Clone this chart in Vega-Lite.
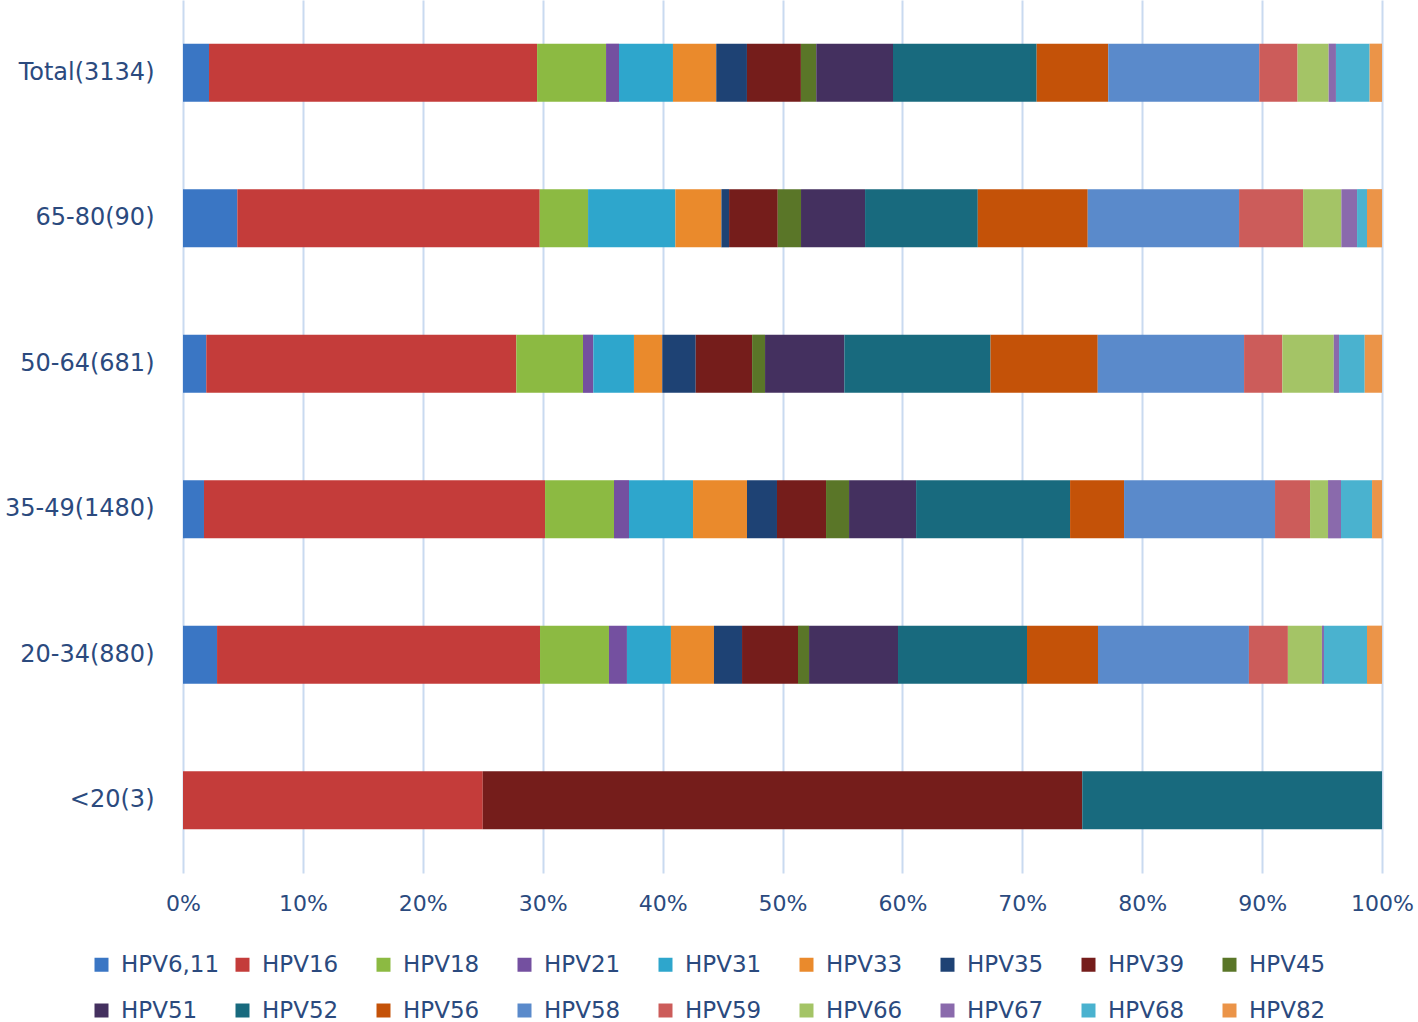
{
  "$schema": "https://vega.github.io/schema/vega-lite/v6.json",
  "width": 1199,
  "height": 873,
  "autosize": {"type": "none"},
  "padding": {"left": 183, "top": 0, "right": 36, "bottom": 149},
  "background": "white",
  "config": {"view": {"stroke": null}, "font": "DejaVu Sans"},
  "data": {"values": [
    {"g":"Total(3134)","t":"HPV6,11","v":2.17},{"g":"Total(3134)","t":"HPV16","v":27.36},{"g":"Total(3134)","t":"HPV18","v":5.75},{"g":"Total(3134)","t":"HPV21","v":1.08},{"g":"Total(3134)","t":"HPV31","v":4.50},{"g":"Total(3134)","t":"HPV33","v":3.61},{"g":"Total(3134)","t":"HPV35","v":2.56},{"g":"Total(3134)","t":"HPV39","v":4.50},{"g":"Total(3134)","t":"HPV45","v":1.28},{"g":"Total(3134)","t":"HPV51","v":6.40},{"g":"Total(3134)","t":"HPV52","v":11.98},{"g":"Total(3134)","t":"HPV56","v":5.97},{"g":"Total(3134)","t":"HPV58","v":12.59},{"g":"Total(3134)","t":"HPV59","v":3.20},{"g":"Total(3134)","t":"HPV66","v":2.59},{"g":"Total(3134)","t":"HPV67","v":0.61},{"g":"Total(3134)","t":"HPV68","v":2.81},{"g":"Total(3134)","t":"HPV82","v":1.03},
    {"g":"65-80(90)","t":"HPV6,11","v":4.53},{"g":"65-80(90)","t":"HPV16","v":25.22},{"g":"65-80(90)","t":"HPV18","v":4.03},{"g":"65-80(90)","t":"HPV31","v":7.28},{"g":"65-80(90)","t":"HPV33","v":3.84},{"g":"65-80(90)","t":"HPV35","v":0.64},{"g":"65-80(90)","t":"HPV39","v":4.06},{"g":"65-80(90)","t":"HPV45","v":1.94},{"g":"65-80(90)","t":"HPV51","v":5.34},{"g":"65-80(90)","t":"HPV52","v":9.40},{"g":"65-80(90)","t":"HPV56","v":9.17},{"g":"65-80(90)","t":"HPV58","v":12.62},{"g":"65-80(90)","t":"HPV59","v":5.34},{"g":"65-80(90)","t":"HPV66","v":3.19},{"g":"65-80(90)","t":"HPV67","v":1.31},{"g":"65-80(90)","t":"HPV68","v":0.83},{"g":"65-80(90)","t":"HPV82","v":1.25},
    {"g":"50-64(681)","t":"HPV6,11","v":1.94},{"g":"50-64(681)","t":"HPV16","v":25.85},{"g":"50-64(681)","t":"HPV18","v":5.56},{"g":"50-64(681)","t":"HPV21","v":0.86},{"g":"50-64(681)","t":"HPV31","v":3.39},{"g":"50-64(681)","t":"HPV33","v":2.36},{"g":"50-64(681)","t":"HPV35","v":2.79},{"g":"50-64(681)","t":"HPV39","v":4.70},{"g":"50-64(681)","t":"HPV45","v":1.08},{"g":"50-64(681)","t":"HPV51","v":6.61},{"g":"50-64(681)","t":"HPV52","v":12.19},{"g":"50-64(681)","t":"HPV56","v":8.94},{"g":"50-64(681)","t":"HPV58","v":12.20},{"g":"50-64(681)","t":"HPV59","v":3.19},{"g":"50-64(681)","t":"HPV66","v":4.29},{"g":"50-64(681)","t":"HPV67","v":0.44},{"g":"50-64(681)","t":"HPV68","v":2.14},{"g":"50-64(681)","t":"HPV82","v":1.44},
    {"g":"35-49(1480)","t":"HPV6,11","v":1.75},{"g":"35-49(1480)","t":"HPV16","v":28.44},{"g":"35-49(1480)","t":"HPV18","v":5.75},{"g":"35-49(1480)","t":"HPV21","v":1.25},{"g":"35-49(1480)","t":"HPV31","v":5.34},{"g":"35-49(1480)","t":"HPV33","v":4.50},{"g":"35-49(1480)","t":"HPV35","v":2.50},{"g":"35-49(1480)","t":"HPV39","v":4.09},{"g":"35-49(1480)","t":"HPV45","v":1.92},{"g":"35-49(1480)","t":"HPV51","v":5.59},{"g":"35-49(1480)","t":"HPV52","v":12.84},{"g":"35-49(1480)","t":"HPV56","v":4.50},{"g":"35-49(1480)","t":"HPV58","v":12.59},{"g":"35-49(1480)","t":"HPV59","v":2.92},{"g":"35-49(1480)","t":"HPV66","v":1.50},{"g":"35-49(1480)","t":"HPV67","v":1.08},{"g":"35-49(1480)","t":"HPV68","v":2.59},{"g":"35-49(1480)","t":"HPV82","v":0.83},
    {"g":"20-34(880)","t":"HPV6,11","v":2.84},{"g":"20-34(880)","t":"HPV16","v":26.94},{"g":"20-34(880)","t":"HPV18","v":5.75},{"g":"20-34(880)","t":"HPV21","v":1.50},{"g":"20-34(880)","t":"HPV31","v":3.67},{"g":"20-34(880)","t":"HPV33","v":3.59},{"g":"20-34(880)","t":"HPV35","v":2.34},{"g":"20-34(880)","t":"HPV39","v":4.67},{"g":"20-34(880)","t":"HPV45","v":0.92},{"g":"20-34(880)","t":"HPV51","v":7.42},{"g":"20-34(880)","t":"HPV52","v":10.76},{"g":"20-34(880)","t":"HPV56","v":5.92},{"g":"20-34(880)","t":"HPV58","v":12.59},{"g":"20-34(880)","t":"HPV59","v":3.25},{"g":"20-34(880)","t":"HPV66","v":2.84},{"g":"20-34(880)","t":"HPV67","v":0.17},{"g":"20-34(880)","t":"HPV68","v":3.59},{"g":"20-34(880)","t":"HPV82","v":1.25},
    {"g":"<20(3)","t":"HPV16","v":25},{"g":"<20(3)","t":"HPV39","v":50},{"g":"<20(3)","t":"HPV52","v":25}
  ]},
  "transform": [
    {"calculate": "indexof(['HPV6,11','HPV16','HPV18','HPV21','HPV31','HPV33','HPV35','HPV39','HPV45','HPV51','HPV52','HPV56','HPV58','HPV59','HPV66','HPV67','HPV68','HPV82'], datum.t)", "as": "k"}
  ],
  "mark": {"type": "bar"},
  "encoding": {
    "y": {
      "field": "g", "type": "nominal",
      "sort": ["Total(3134)","65-80(90)","50-64(681)","35-49(1480)","20-34(880)","<20(3)"],
      "scale": {"paddingInner": 0.6, "paddingOuter": 0.3},
      "axis": {"title": null, "domain": false, "ticks": false, "labelPadding": 29, "labelFontSize": 24, "labelColor": "#2b4a7e", "labelFont": "DejaVu Sans"}
    },
    "x": {
      "field": "v", "type": "quantitative", "stack": "normalize",
      "scale": {"domain": [0, 1], "nice": false},
      "axis": {"title": null, "format": "%", "values": [0,0.1,0.2,0.3,0.4,0.5,0.6,0.7,0.8,0.9,1], "domain": false, "ticks": false, "labelPadding": 20, "labelFontSize": 22, "labelColor": "#2b4a7e", "gridColor": "#c9daf0", "gridWidth": 2, "labelFlush": false}
    },
    "color": {
      "field": "t", "type": "nominal",
      "sort": ["HPV6,11","HPV16","HPV18","HPV21","HPV31","HPV33","HPV35","HPV39","HPV45","HPV51","HPV52","HPV56","HPV58","HPV59","HPV66","HPV67","HPV68","HPV82"],
      "scale": {
        "domain": ["HPV6,11","HPV16","HPV18","HPV21","HPV31","HPV33","HPV35","HPV39","HPV45","HPV51","HPV52","HPV56","HPV58","HPV59","HPV66","HPV67","HPV68","HPV82"],
        "range": ["#3a76c4","#c43c3a","#8cba42","#7450a0","#2ea6cc","#ea8a2c","#1e4274","#751d1b","#5a7628","#44305f","#186a7e","#c45208","#5a8acb","#cc5c5a","#a4c466","#8a6aac","#4ab2cf","#eb9448"]
      },
      "legend": {
        "orient": "none", "legendX": -93, "legendY": 953, "direction": "horizontal", "columns": 9,
        "title": null, "symbolType": "square", "symbolSize": 196, "symbolStrokeWidth": 0,
        "labelFontSize": 23, "labelColor": "#2b4a7e", "labelOffset": 8, "gridAlign": "all",
        "columnPadding": 11, "rowPadding": 22, "labelLimit": 300
      }
    },
    "order": {"field": "k", "type": "quantitative", "sort": "ascending"}
  }
}
